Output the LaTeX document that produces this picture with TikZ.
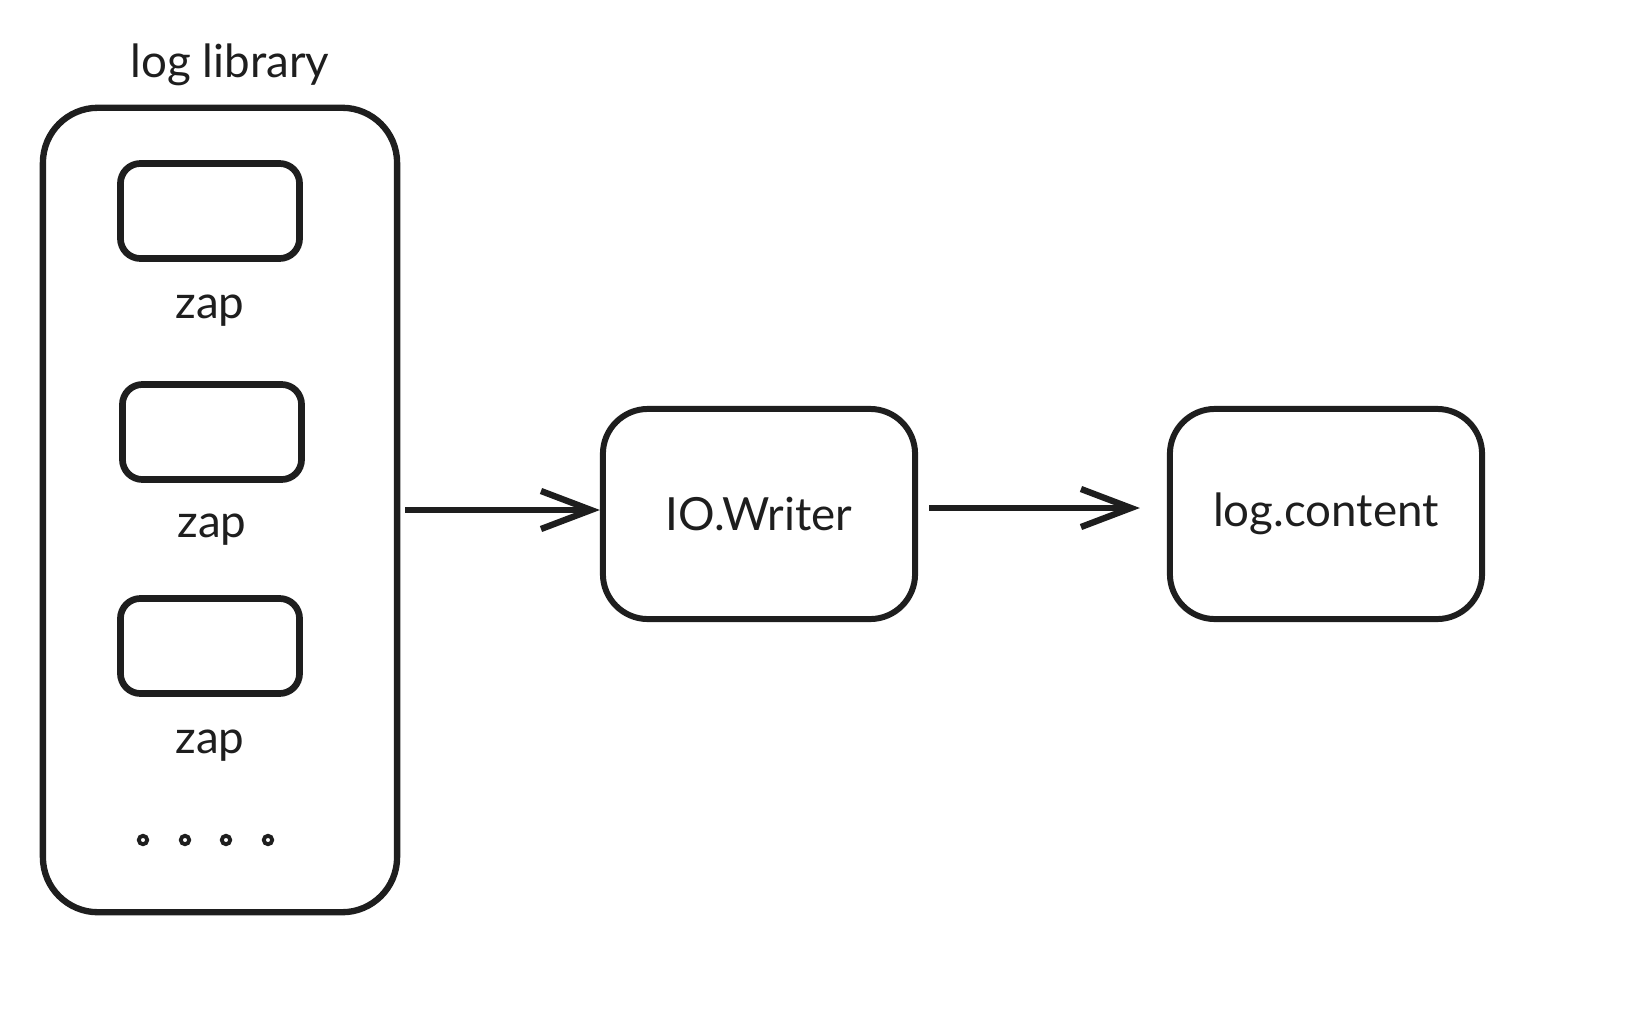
\documentclass[tikz,border=0pt]{standalone}
\usepackage{fontspec}
\setmainfont{Lato}
\usetikzlibrary{arrows.meta, positioning}
\definecolor{ink}{HTML}{1E1E1E}
\tikzset{
  container/.style={rectangle, rounded corners=0.55cm, minimum width=3.54cm,
    minimum height=8.04cm, draw=ink, line width=1.8pt},
  slot/.style={rectangle, rounded corners=0.2cm, minimum width=1.79cm,
    minimum height=0.95cm, draw=ink, line width=1.9pt},
  process/.style={rectangle, rounded corners=0.45cm, minimum width=3.12cm,
    minimum height=2.1cm, draw=ink, line width=1.7pt, text=ink,
    font=\fontsize{13}{15}\selectfont},
  caption/.style={text=ink, inner sep=0pt, font=\fontsize{13}{15}\selectfont},
  arrow/.style={-{Straight Barb[length=0.5cm, width=0.38cm]}, line width=1.8pt, draw=ink}
}
\begin{document}
\begin{tikzpicture}[x=0.01cm, y=-0.01cm]
\useasboundingbox (0,0) rectangle (1626,1036);
\node (lib)     [container]                          at (220,510) {};
\node (title)   [caption, above=0.27cm of lib, anchor=base, xshift=0.1cm] {log library};
\node (slot1)   [slot]                               at (210,211) {};
\node (slot2)   [slot]                               at (212,432) {};
\node (slot3)   [slot]                               at (210,646) {};
\node (zap1)    [caption, below=0.57cm of slot1, anchor=base] {zap};
\node (zap2)    [caption, below=0.55cm of slot2, anchor=base] {zap};
\node (zap3)    [caption, below=0.57cm of slot3, anchor=base] {zap};
\node (io)      [process]                            at (759,514) {IO.Writer};
\node (content) [process]                            at (1326,514) {log.content};

% dots under the last zap
\foreach \x in {143,185,226,268}
  \draw [ink, line width=1.1pt] (\x,840) circle (0.042cm);

\draw [arrow] ([xshift=0.05cm]lib.east |- 0,510) -- (io.west |- 0,510);
\draw [arrow, shorten <=0.11cm, shorten >=0.27cm] (io.east |- 0,508) -- (content.west |- 0,508);
\end{tikzpicture}
\end{document}
